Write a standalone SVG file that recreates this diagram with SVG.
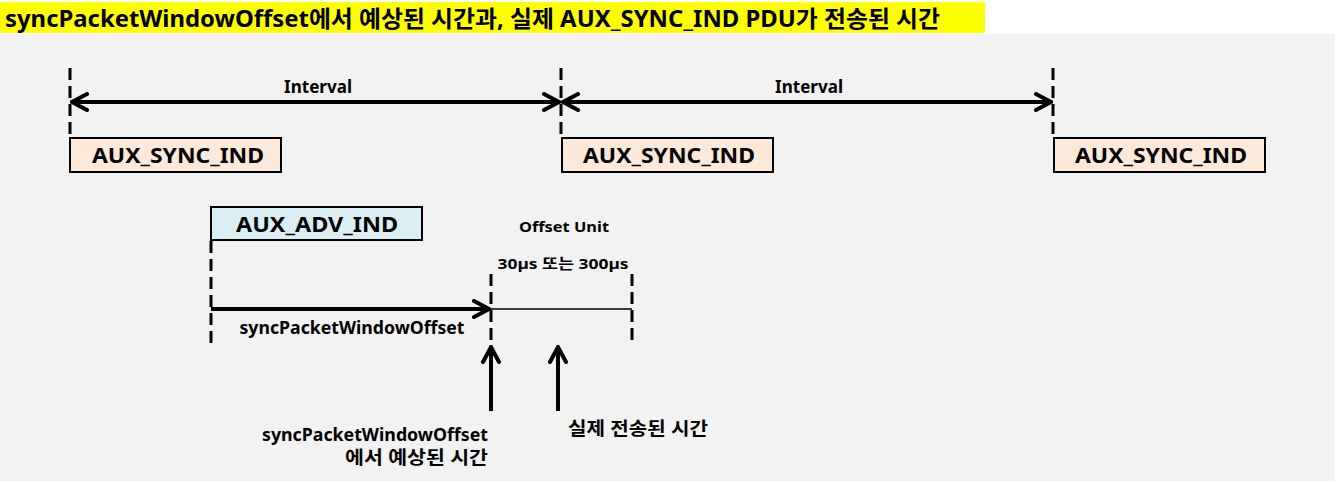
<svg xmlns="http://www.w3.org/2000/svg" width="1337" height="483" viewBox="0 0 1337 483">
<defs>
<style>
text{font-family:"Noto Sans","Noto Sans CJK KR",sans-serif;font-weight:bold;fill:#000}
.title{font-size:23px}
.box{font-size:22px;text-anchor:middle}
.lbl{font-size:17px;text-anchor:middle}
.lbl2{font-size:18px}
.sm{font-size:15px;text-anchor:middle}
.dash{stroke:#000;stroke-width:3;stroke-dasharray:12 6;fill:none}
.thick{stroke:#000;stroke-width:4;fill:none}
.thin{stroke:#000;stroke-width:1.3;fill:none}
.sync{fill:#fde9d9;stroke:#000;stroke-width:2}
.adv{fill:#dbeef4;stroke:#000;stroke-width:2}
</style>
<marker id="ah" viewBox="0 0 20 20" refX="18" refY="10" markerWidth="20" markerHeight="20" markerUnits="userSpaceOnUse" orient="auto-start-reverse">
<path d="M3,2 L18,10 L3,18" fill="none" stroke="#000" stroke-width="4" stroke-linecap="round" stroke-linejoin="miter"/>
</marker>
</defs>
<rect x="0" y="0" width="1337" height="483" fill="#ffffff"/>
<rect x="0" y="34" width="1335" height="447" fill="#f2f2f2"/>
<g id="title">
<rect x="0" y="2" width="985" height="31" fill="#ffff00"/>
<text class="title" x="5" y="27" textLength="935" lengthAdjust="spacingAndGlyphs">syncPacketWindowOffset에서 예상된 시간과, 실제 AUX_SYNC_IND PDU가 전송된 시간</text>
</g>
<g id="connectors">
<line class="dash" x1="70" y1="68" x2="70" y2="138"/>
<line class="dash" x1="561" y1="68" x2="561" y2="138"/>
<line class="dash" x1="1053" y1="68" x2="1053" y2="138"/>
<line class="thick" x1="72" y1="102" x2="559" y2="102" marker-start="url(#ah)" marker-end="url(#ah)"/>
<line class="thick" x1="563" y1="102" x2="1051" y2="102" marker-start="url(#ah)" marker-end="url(#ah)"/>
<line class="dash" x1="211" y1="241" x2="211" y2="345"/>
<line class="dash" x1="491" y1="274" x2="491" y2="345"/>
<line class="dash" x1="632" y1="274" x2="632" y2="345"/>
<line class="thick" x1="211" y1="309" x2="489" y2="309" marker-end="url(#ah)"/>
<line class="thin" x1="491" y1="309" x2="632" y2="309"/>
<line class="thick" x1="491" y1="411" x2="491" y2="347" marker-end="url(#ah)"/>
<line class="thick" x1="558" y1="411" x2="558" y2="347" marker-end="url(#ah)"/>
</g>
<g id="label-interval-1"><text class="lbl" x="318" y="93" textLength="68" lengthAdjust="spacingAndGlyphs">Interval</text></g>
<g id="label-interval-2"><text class="lbl" x="809" y="93" textLength="68" lengthAdjust="spacingAndGlyphs">Interval</text></g>
<g id="sync-1">
<rect class="sync" x="70" y="138" width="211" height="34"/>
<text class="box" x="178" y="163" textLength="172" lengthAdjust="spacingAndGlyphs">AUX_SYNC_IND</text>
</g>
<g id="sync-2">
<rect class="sync" x="562" y="138" width="211" height="34"/>
<text class="box" x="669" y="163" textLength="172" lengthAdjust="spacingAndGlyphs">AUX_SYNC_IND</text>
</g>
<g id="sync-3">
<rect class="sync" x="1054" y="138" width="211" height="34"/>
<text class="box" x="1161" y="163" textLength="172" lengthAdjust="spacingAndGlyphs">AUX_SYNC_IND</text>
</g>
<g id="adv">
<rect class="adv" x="211" y="207" width="211" height="33"/>
<text class="box" x="317" y="232" textLength="162" lengthAdjust="spacingAndGlyphs">AUX_ADV_IND</text>
</g>
<g id="offset-unit">
<text class="sm" x="564" y="232" textLength="90" lengthAdjust="spacingAndGlyphs">Offset Unit</text>
<text class="sm" x="563" y="269" textLength="131" lengthAdjust="spacingAndGlyphs">30µs 또는 300µs</text>
</g>
<g id="label-offset"><text class="lbl" x="352" y="334" textLength="225" lengthAdjust="spacingAndGlyphs">syncPacketWindowOffset</text></g>
<g id="label-expected">
<text class="lbl2" x="262" y="441" textLength="226" lengthAdjust="spacingAndGlyphs">syncPacketWindowOffset</text>
<text class="lbl2" x="345" y="464" textLength="143" lengthAdjust="spacingAndGlyphs">에서 예상된 시간</text>
</g>
<g id="label-actual"><text class="lbl2" x="568" y="435" textLength="140" lengthAdjust="spacingAndGlyphs">실제 전송된 시간</text></g>
</svg>
